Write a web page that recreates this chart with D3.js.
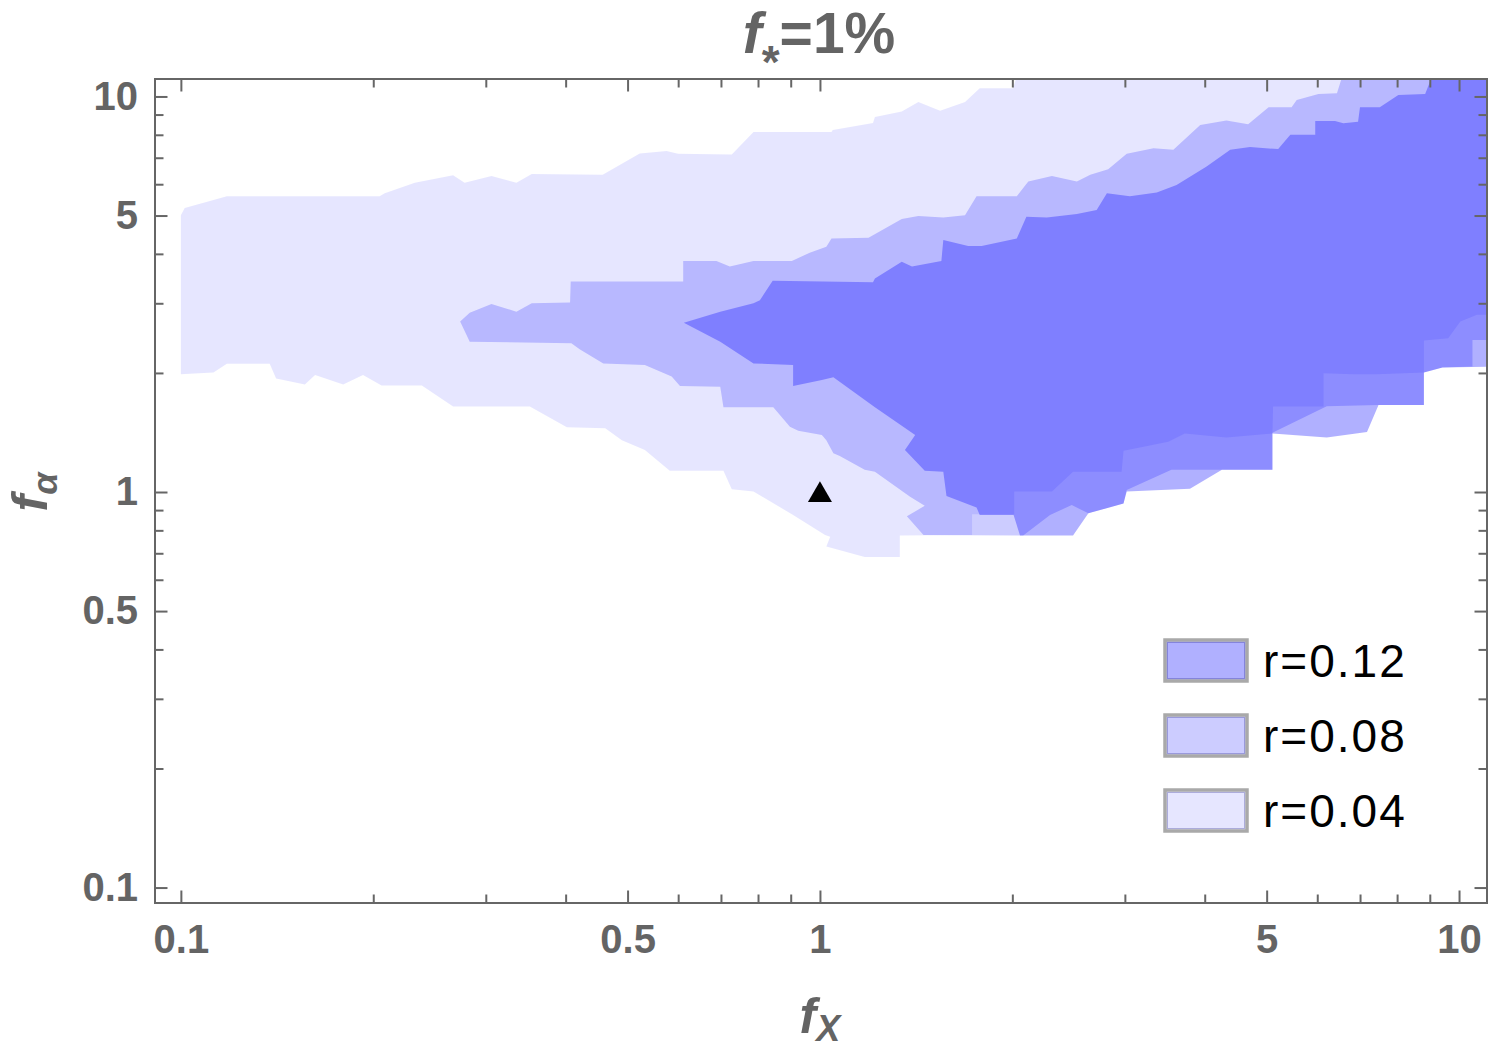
<!DOCTYPE html>
<html>
<head>
<meta charset="utf-8">
<script src="https://cdn.jsdelivr.net/npm/d3@7"></script>
<style>
body { margin: 0; background: #fff; }
svg { display: block; font-family: "Liberation Sans", Arial, sans-serif; }
.tick text { font-weight: bold; fill: #646464; font-size: 40px; }
.tick line { stroke: #666; stroke-width: 2; }
</style>
</head>
<body>
<svg width="1500" height="1049"></svg>
<script>
// region outlines, as [log10 fX, log10 fα]
var r004 = [[-1.000,0.700],[-0.994,0.718],[-0.928,0.748],[-0.689,0.748],[-0.681,0.755],[-0.634,0.782],[-0.574,0.801],[-0.556,0.782],[-0.514,0.799],[-0.475,0.782],[-0.451,0.804],[-0.340,0.802],[-0.282,0.856],[-0.240,0.862],[-0.222,0.855],[-0.138,0.853],[-0.104,0.910],[0.018,0.910],[0.020,0.915],[0.083,0.933],[0.086,0.948],[0.128,0.962],[0.154,0.986],[0.188,0.964],[0.227,0.986],[0.250,1.021],[0.302,1.021],[0.310,1.060],[1.060,1.060],[1.060,0.448],[1.028,0.448],[1.002,0.431],[0.983,0.389],[0.945,0.383],[0.945,0.302],[0.871,0.298],[0.835,0.298],[0.788,0.300],[0.788,0.216],[0.709,0.216],[0.708,0.148],[0.636,0.138],[0.571,0.148],[0.545,0.127],[0.475,0.104],[0.472,0.051],[0.396,0.051],[0.363,0.001],[0.304,0.001],[0.304,-0.056],[0.238,-0.056],[0.238,-0.109],[0.125,-0.110],[0.125,-0.164],[0.070,-0.164],[0.010,-0.138],[0.016,-0.113],[0.008,-0.109],[-0.042,-0.058],[-0.104,0.001],[-0.138,0.007],[-0.151,0.054],[-0.235,0.054],[-0.274,0.106],[-0.310,0.131],[-0.336,0.161],[-0.396,0.164],[-0.454,0.216],[-0.574,0.216],[-0.623,0.269],[-0.686,0.269],[-0.715,0.296],[-0.746,0.272],[-0.790,0.296],[-0.806,0.272],[-0.851,0.287],[-0.861,0.324],[-0.928,0.324],[-0.949,0.302],[-1.000,0.298]];

var r008 = [[-0.563,0.431],[-0.548,0.453],[-0.514,0.475],[-0.475,0.456],[-0.451,0.477],[-0.391,0.479],[-0.390,0.532],[-0.214,0.532],[-0.214,0.584],[-0.162,0.584],[-0.141,0.570],[-0.104,0.584],[-0.044,0.584],[-0.016,0.605],[0.010,0.620],[0.018,0.641],[0.076,0.643],[0.128,0.690],[0.154,0.698],[0.193,0.694],[0.227,0.700],[0.245,0.748],[0.308,0.748],[0.326,0.785],[0.363,0.799],[0.402,0.785],[0.423,0.802],[0.451,0.816],[0.480,0.855],[0.522,0.869],[0.553,0.865],[0.595,0.928],[0.636,0.939],[0.670,0.930],[0.702,0.973],[0.738,0.973],[0.746,0.991],[0.780,1.006],[0.809,1.008],[0.819,1.060],[1.060,1.060],[1.060,0.384],[1.021,0.384],[1.021,0.317],[0.974,0.315],[0.945,0.302],[0.945,0.220],[0.874,0.220],[0.793,0.217],[0.708,0.150],[0.708,0.056],[0.550,0.056],[0.480,0.005],[0.475,-0.029],[0.420,-0.054],[0.394,-0.033],[0.360,-0.058],[0.318,-0.110],[0.313,-0.110],[0.162,-0.109],[0.136,-0.061],[0.164,-0.035],[0.141,-0.012],[0.086,0.051],[0.070,0.056],[0.031,0.091],[0.021,0.098],[0.010,0.131],[0.003,0.144],[-0.034,0.155],[-0.047,0.165],[-0.073,0.214],[-0.151,0.214],[-0.156,0.266],[-0.219,0.268],[-0.232,0.292],[-0.274,0.321],[-0.339,0.325],[-0.376,0.361],[-0.389,0.376],[-0.548,0.380]];

var r012 = [[-0.213,0.428],[-0.156,0.456],[-0.104,0.477],[-0.094,0.485],[-0.074,0.534],[0.005,0.532],[0.083,0.530],[0.086,0.540],[0.128,0.582],[0.144,0.570],[0.190,0.584],[0.193,0.637],[0.232,0.622],[0.253,0.622],[0.308,0.641],[0.323,0.696],[0.355,0.694],[0.402,0.703],[0.433,0.713],[0.449,0.755],[0.485,0.748],[0.527,0.757],[0.558,0.776],[0.605,0.823],[0.642,0.865],[0.673,0.872],[0.717,0.867],[0.736,0.903],[0.775,0.903],[0.775,0.938],[0.806,0.938],[0.819,0.932],[0.842,0.936],[0.845,0.973],[0.876,0.973],[0.905,1.004],[0.947,1.006],[0.960,1.060],[1.060,1.060],[1.060,0.317],[0.974,0.315],[0.945,0.302],[0.945,0.220],[0.874,0.220],[0.856,0.152],[0.793,0.138],[0.708,0.148],[0.708,0.056],[0.629,0.056],[0.579,0.008],[0.480,0.001],[0.475,-0.029],[0.420,-0.054],[0.396,-0.110],[0.313,-0.110],[0.303,-0.058],[0.250,-0.058],[0.245,-0.039],[0.198,-0.010],[0.193,0.051],[0.164,0.054],[0.133,0.106],[0.149,0.144],[0.086,0.214],[0.021,0.290],[0.003,0.283],[-0.042,0.268],[-0.042,0.321],[-0.104,0.325],[-0.156,0.380]];

var marker = [[1, 1]];            // fX, fα of the triangle
var majorTicks = [0.1, 0.5, 1, 5, 10];
var minorTicks = [0.2, 0.3, 0.4, 0.6, 0.7, 0.8, 0.9, 2, 3, 4, 6, 7, 8, 9];
var legendLabels = ["r=0.12", "r=0.08", "r=0.04"];

var svg = d3.select("svg"),
    margin = {top: 79, right: 13, bottom: 146, left: 155},
    width = +svg.attr("width") - margin.left - margin.right,
    height = +svg.attr("height") - margin.top - margin.bottom;

var x = d3.scaleLog().domain([0.0911, 11.06]).range([0, width]);
var y = d3.scaleLog().domain([0.0914, 11.07]).range([height, 0]);

// layer opacity, blue over white
var layers = [
    {data: r004, alpha: 0.098},
    {data: r008, alpha: 0.2},
    {data: r012, alpha: 0.31}
];

var g = svg.append("g")
    .attr("transform", "translate(" + margin.left + "," + margin.top + ")");

g.append("clipPath").attr("id", "plotclip")
    .append("rect").attr("width", width).attr("height", height);

var line = d3.line()
    .x(function(d) { return x(Math.pow(10, d[0])); })
    .y(function(d) { return y(Math.pow(10, d[1])); })
    .curve(d3.curveLinearClosed);

g.append("g").attr("clip-path", "url(#plotclip)")
    .selectAll(".region")
    .data(layers)
    .enter().append("path")
        .attr("class", "region")
        .attr("d", function(d) { return line(d.data); })
        .attr("fill", "#0000ff")
        .attr("fill-opacity", function(d) { return d.alpha; });

g.selectAll(".marker")
    .data(marker)
    .enter().append("path")
        .attr("class", "marker")
        .attr("d", d3.symbol().type(d3.symbolTriangle).size(250))
        .attr("transform", function(d) { return "translate(" + x(d[0]) + "," + (y(d[1]) + 3) + ")"; })
        .attr("fill", "#000");

// axes: ticks point inward on all four sides
function noDomain(sel) { sel.select(".domain").remove(); }
var fmt = function(d) { return String(d); };

g.append("g").attr("transform", "translate(0," + height + ")")
    .call(d3.axisBottom(x).tickValues(majorTicks).tickSize(-12.5).tickPadding(22).tickFormat(fmt)).call(noDomain);
g.append("g").attr("transform", "translate(0," + height + ")")
    .call(d3.axisBottom(x).tickValues(minorTicks).tickSize(-8.5).tickFormat("")).call(noDomain);
g.append("g")
    .call(d3.axisTop(x).tickValues(majorTicks).tickSize(-12.5).tickFormat("")).call(noDomain);
g.append("g")
    .call(d3.axisTop(x).tickValues(minorTicks).tickSize(-8.5).tickFormat("")).call(noDomain);

g.append("g")
    .call(d3.axisLeft(y).tickValues(majorTicks).tickSize(-12.5).tickPadding(17).tickFormat(fmt)).call(noDomain);
g.append("g")
    .call(d3.axisLeft(y).tickValues(minorTicks).tickSize(-8.5).tickFormat("")).call(noDomain);
g.append("g").attr("transform", "translate(" + width + ",0)")
    .call(d3.axisRight(y).tickValues(majorTicks).tickSize(-12.5).tickFormat("")).call(noDomain);
g.append("g").attr("transform", "translate(" + width + ",0)")
    .call(d3.axisRight(y).tickValues(minorTicks).tickSize(-8.5).tickFormat("")).call(noDomain);

g.append("rect")
    .attr("width", width).attr("height", height)
    .attr("fill", "none").attr("stroke", "#666").attr("stroke-width", 2);

// title f*=1%
var title = svg.append("text")
    .attr("x", margin.left + width / 2 - 2).attr("y", 53)
    .attr("text-anchor", "middle")
    .attr("fill", "#646464").attr("font-weight", "bold").attr("font-size", 57);
title.append("tspan").attr("font-style", "italic").text("f");
title.append("tspan").attr("font-size", 46).attr("dy", 25).text("*");
title.append("tspan").attr("dy", -25).text("=1%");

// x label
var xl = svg.append("text")
    .attr("x", margin.left + x(1)).attr("y", 1033)
    .attr("text-anchor", "middle")
    .attr("fill", "#646464").attr("font-weight", "bold").attr("font-style", "italic").attr("font-size", 50);
xl.append("tspan").text("f");
xl.append("tspan").attr("font-size", 36).attr("dy", 8).text("X");

// y label
var yl = svg.append("text")
    .attr("transform", "translate(47," + (margin.top + y(1)) + ") rotate(-90)")
    .attr("text-anchor", "middle")
    .attr("fill", "#646464").attr("font-weight", "bold").attr("font-style", "italic").attr("font-size", 50);
yl.append("tspan").text("f");
yl.append("tspan").attr("font-size", 36).attr("dy", 10).text("α");

// legend
var legend = svg.append("g").attr("transform", "translate(1165,640)");
var rows = legend.selectAll(".lg")
    .data(legendLabels)
    .enter().append("g")
        .attr("class", "lg")
        .attr("transform", function(d, i) { return "translate(0," + (i * 75) + ")"; });

rows.append("rect")
    .attr("width", 82).attr("height", 41)
    .attr("fill", "#fff");
rows.append("rect")
    .attr("width", 82).attr("height", 41)
    .attr("fill", "#0000ff")
    .attr("fill-opacity", function(d, i) { return layers[2 - i].alpha; })
    .attr("stroke", "#a9a9a9").attr("stroke-width", 3.5);
rows.append("rect")
    .attr("x", 2.5).attr("y", 2.5).attr("width", 77).attr("height", 36)
    .attr("fill", "none").attr("stroke", "rgba(0,0,110,0.25)").attr("stroke-width", 1);
rows.append("text")
    .attr("x", 98).attr("y", 37)
    .attr("font-size", 46).attr("letter-spacing", 2).attr("fill", "#000")
    .text(function(d) { return d; });
</script>
</body>
</html>
